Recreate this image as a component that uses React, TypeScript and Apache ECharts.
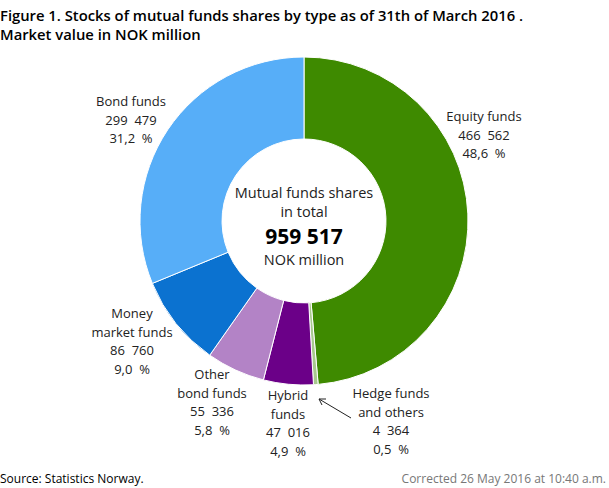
import React, { useEffect, useRef } from "react";
import * as echarts from "echarts";

const categories = ["Equity funds", "Hedge funds\nand others", "Hybrid\nfunds", "Other\nbond funds", "Money\nmarket funds", "Bond funds"];
const values = [466562, 4364, 47016, 55336, 86760, 299479];
const colors = ["#3e8a00", "#a8c98e", "#6b0088", "#b383c6", "#0b72d0", "#57aef8"];
const labelPos = [[484, 107], [391, 384], [288, 386], [212, 365], [132, 304], [131, 92]];
const total = values.reduce((a, b) => a + b, 0);

const fmt = (n: number) => String(n).replace(/\B(?=(\d{3})+(?!\d))/g, " ");
const pct = (n: number) => ((n / total) * 100).toFixed(1).replace(".", ",") + "  %";

export default function App() {
  const ref = useRef<HTMLDivElement>(null);
  useEffect(() => {
    const chart = echarts.init(ref.current!, undefined, { renderer: "svg" });
    const font = "'Open Sans', sans-serif";
    const labels = categories.map((c, i) => ({
      type: "text",
      x: labelPos[i][0],
      y: labelPos[i][1],
      style: {
        text: c + "\n" + fmt(values[i]).replace(" ", "  ") + "\n" + pct(values[i]),
        font: "13px " + font,
        fill: "#222",
        align: "center",
        verticalAlign: "top",
        lineHeight: 18.5,
      },
    }));
    chart.setOption({
      animation: false,
      color: colors,
      series: [
        {
          type: "pie",
          center: [304, 221],
          radius: [82, 164],
          startAngle: 90,
          clockwise: true,
          label: { show: false },
          labelLine: { show: false },
          emphasis: { disabled: true },
          itemStyle: { borderColor: "#fff", borderWidth: 1 },
          data: categories.map((c, i) => ({ name: c, value: values[i] })),
        },
      ],
      graphic: [
        {
          type: "text",
          x: 0,
          y: 5,
          style: {
            text: "Figure 1. Stocks of mutual funds shares by type as of 31th of March 2016 .\nMarket value in NOK million",
            font: "600 14.8px " + font,
            fill: "#000",
            lineHeight: 19,
          },
        },
        {
          type: "text",
          x: 304,
          y: 183,
          style: { text: "Mutual funds shares\nin total", font: "14.5px " + font, fill: "#222", align: "center", lineHeight: 19 },
        },
        {
          type: "text",
          x: 304,
          y: 225,
          style: { text: fmt(total), font: "bold 21px " + font, fill: "#000", align: "center" },
        },
        {
          type: "text",
          x: 304,
          y: 252,
          style: { text: "NOK million", font: "14.5px " + font, fill: "#222", align: "center" },
        },
        ...labels,
        {
          type: "line",
          shape: { x1: 351, y1: 418, x2: 319, y2: 399 },
          style: { stroke: "#222", lineWidth: 1 },
        },
        {
          type: "polyline",
          shape: { points: [[322, 405], [319, 399], [326, 399]] },
          style: { stroke: "#222", lineWidth: 1, fill: null },
        },
        {
          type: "text",
          x: 0,
          y: 472,
          style: { text: "Source: Statistics Norway.", font: "12px " + font, fill: "#000" },
        },
        {
          type: "text",
          x: 606,
          y: 472,
          style: { text: "Corrected 26 May 2016 at 10:40 a.m.", font: "12px " + font, fill: "#777", align: "right" },
        },
      ],
    });
    return () => chart.dispose();
  }, []);
  return <div ref={ref} style={{ position: "fixed", left: 0, top: 0, width: 609, height: 488, background: "#fff" }} />;
}
